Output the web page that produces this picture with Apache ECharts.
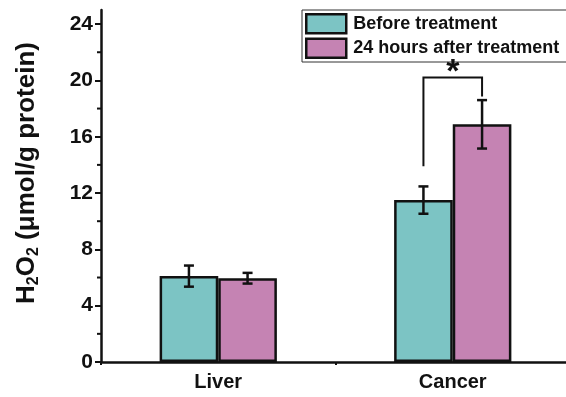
<!DOCTYPE html>
<html><head><meta charset="utf-8">
<script src="https://cdn.jsdelivr.net/npm/echarts@6/dist/echarts.min.js"></script>
<style>html,body{margin:0;padding:0;background:#fff}#c{width:566px;height:397px}</style>
</head><body><div id="c"></div>
<script>
const categories = ['Liver', 'Cancer'];
const seriesNames = ['Before treatment', '24 hours after treatment'];
const beforeValues = [6.1, 11.5];
const beforeErrors = [0.75, 0.97];
const afterValues = [5.95, 16.88];
const afterErrors = [0.38, 1.72];
const yTicks = [0, 4, 8, 12, 16, 20, 24];
const yMinorTicks = [2, 6, 10, 14, 18, 22];
const yAxisTitle = 'H{s|2}O{s|2} (μmol/g protein)';
// significance bracket (Cancer): left foot, top, right foot, label
const bracket = { category: 1, leftY: 13.9, topY: 20.2, rightY: 18.85, label: '*' };

const teal = '#7cc4c4', pink = '#c583b3';
const chart = echarts.init(document.getElementById('c'));
const font = 'Liberation Sans, Arial, sans-serif';

function errorSeries(values, errors, side) {
  return {
    type: 'custom', z: 5,
    data: values.map((v, i) => [i, v - errors[i], v + errors[i]]),
    renderItem: function (params, api) {
      const band = api.size([1, 0])[0];
      const off = side * band * 0.125;
      const lo = api.coord([api.value(0), api.value(1)]);
      const hi = api.coord([api.value(0), api.value(2)]);
      const x = lo[0] + off, hw = 5;
      const st = { stroke: '#111', lineWidth: 2.5 };
      return { type: 'group', children: [
        { type: 'line', shape: { x1: x, y1: lo[1], x2: x, y2: hi[1] }, style: st },
        { type: 'line', shape: { x1: x - hw, y1: lo[1], x2: x + hw, y2: lo[1] }, style: st },
        { type: 'line', shape: { x1: x - hw, y1: hi[1], x2: x + hw, y2: hi[1] }, style: st }
      ]};
    }
  };
}

chart.setOption({
  animation: false,
  textStyle: { fontFamily: font },
  grid: { left: 101, width: 469, top: 10, bottom: 35, outerBoundsMode: 'none', containLabel: false },
  graphic: [{
    type: 'text', x: 27, y: 173, rotation: Math.PI / 2,
    style: {
      text: yAxisTitle, align: 'center', verticalAlign: 'middle',
      fontSize: 26, fontWeight: 'bold', fill: '#111', fontFamily: font,
      rich: { s: { fontSize: 16, fontWeight: 'bold', fill: '#111', fontFamily: font, padding: [13, 0, 0, 0] } }
    }
  }],
  legend: {
    orient: 'vertical', left: 302, top: 10,
    data: seriesNames, icon: 'rect',
    itemWidth: 40, itemHeight: 19, itemGap: 3,
    padding: [3, 8, 3, 3],
    borderColor: '#333', borderWidth: 1,
    itemStyle: { borderWidth: 2.5, borderColor: '#111' },
    textStyle: { fontSize: 18, fontWeight: 'bold', color: '#111', fontFamily: font, lineHeight: 19, padding: [0, 0, 0, 2] }
  },
  xAxis: [{
    type: 'category', data: categories,
    axisLine: { lineStyle: { color: '#111', width: 2.5 } },
    axisTick: { alignWithLabel: true, length: 6, lineStyle: { color: '#111', width: 2 } },
    axisLabel: { fontSize: 20, fontWeight: 'bold', color: '#111', margin: 10, fontFamily: font }
  }, {
    type: 'category', data: ['', ''], position: 'bottom',
    axisLine: { show: false },
    axisTick: { show: true, length: 3, lineStyle: { color: '#111', width: 2 } },
    axisLabel: { show: false }
  }],
  yAxis: {
    type: 'value', min: 0, max: 25,
    axisLine: { show: true, lineStyle: { color: '#111', width: 2.5 } },
    axisTick: { show: true, length: 6, customValues: yTicks, lineStyle: { color: '#111', width: 2 } },
    axisLabel: { customValues: yTicks, fontSize: 21, fontWeight: 'bold', color: '#111', margin: 8, fontFamily: font },
    splitLine: { show: false }
  },
  series: [
    { name: seriesNames[0], type: 'bar', data: beforeValues, barGap: 0, barCategoryGap: '50%',
      itemStyle: { color: teal, borderColor: '#111', borderWidth: 2.5 } },
    { name: seriesNames[1], type: 'bar', data: afterValues, barGap: 0, barCategoryGap: '50%',
      itemStyle: { color: pink, borderColor: '#111', borderWidth: 2.5 } },
    errorSeries(beforeValues, beforeErrors, -1),
    errorSeries(afterValues, afterErrors, 1),
    { type: 'custom', z: 6,
      data: yMinorTicks.map(v => [0, v]),
      renderItem: function (params, api) {
        const p = api.coord([0, api.value(1)]);
        const band = api.size([1, 0])[0];
        const x0 = p[0] - band / 2;
        return { type: 'line', shape: { x1: x0 - 4, y1: p[1], x2: x0, y2: p[1] }, style: { stroke: '#111', lineWidth: 2 } };
      }
    },
    { type: 'custom', z: 6,
      data: [[bracket.category, bracket.leftY, bracket.topY, bracket.rightY]],
      renderItem: function (params, api) {
        const band = api.size([1, 0])[0];
        const c = api.coord([api.value(0), 0]);
        const xl = c[0] - band * 0.125, xr = c[0] + band * 0.125;
        const yl = api.coord([api.value(0), api.value(1)])[1];
        const yt = api.coord([api.value(0), api.value(2)])[1];
        const yr = api.coord([api.value(0), api.value(3)])[1];
        return { type: 'group', children: [
          { type: 'polyline', shape: { points: [[xl, yl], [xl, yt], [xr, yt], [xr, yr]] }, style: { stroke: '#111', lineWidth: 2, fill: null } },
          { type: 'text', style: { text: bracket.label, x: (xl + xr) / 2, y: yt - 5, align: 'center', verticalAlign: 'middle', fontSize: 34, fontWeight: 'bold', fill: '#111', fontFamily: font } }
        ]};
      }
    }
  ]
});
</script></body></html>
